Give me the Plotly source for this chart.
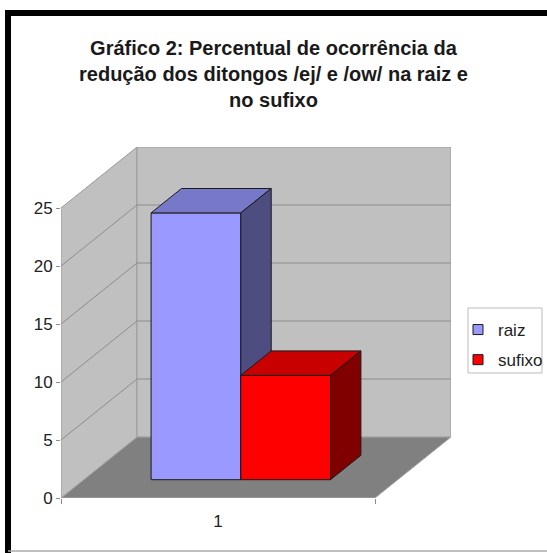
import plotly.graph_objects as go

# ---- data ----
categories = ["1"]
series_names = ["raiz", "sufixo"]
raiz = [23]
sufixo = [9]
y_ticks = [0, 5, 10, 15, 20, 25]
title_text = ("<b>Gráfico 2: Percentual de ocorrência da<br>"
              "redução dos ditongos /ej/ e /ow/ na raiz e<br>no sufixo</b>")

# ---- style / projection ----
W, H = 547, 553
L, R, T, B = 61, 96, 147, 55
YMAX = 25
DX = 76 / 314          # depth shift in category units
DY = 61 / 11.6         # depth shift in value units
front_cols = {"raiz": "#9999FF", "sufixo": "#FF0000"}
top_cols = {"raiz": "#7878C8", "sufixo": "#C80000"}
side_cols = {"raiz": "#4D4D80", "sufixo": "#800000"}
D0, D1 = 0.3, 0.7
GAP = 1.5
n_series = len(series_names)
bar_w = 1 / (n_series + GAP)


def P(x, y, d):
    return x + d * DX, y + d * DY


def poly(pts, fill, line="#808080", lw=1):
    xs = [p[0] for p in pts] + [pts[0][0]]
    ys = [p[1] for p in pts] + [pts[0][1]]
    return go.Scatter(x=xs, y=ys, mode="lines", fill="toself", fillcolor=fill,
                      line=dict(color=line, width=lw), hoverinfo="skip",
                      showlegend=False)


fig = go.Figure()
ncat = len(categories)
# walls and floor
fig.add_trace(poly([P(0, 0, 0), P(0, YMAX, 0), P(0, YMAX, 1), P(0, 0, 1)], "#C0C0C0", "#9A9A9A"))
fig.add_trace(poly([P(0, 0, 1), P(0, YMAX, 1), P(ncat, YMAX, 1), P(ncat, 0, 1)], "#C0C0C0", "#9A9A9A"))
fig.add_trace(poly([P(0, 0, 0), P(ncat, 0, 0), P(ncat, 0, 1), P(0, 0, 1)], "#808080", "#A8A8A8"))
# gridlines
gx, gy = [], []
for v in y_ticks[1:-1]:
    for pt in [P(0, v, 0), P(0, v, 1), P(ncat, v, 1)]:
        gx.append(pt[0]); gy.append(pt[1])
    gx.append(None); gy.append(None)
fig.add_trace(go.Scatter(x=gx, y=gy, mode="lines", line=dict(color="#8C8C8C", width=1),
                         hoverinfo="skip", showlegend=False))

# bars
data = {"raiz": raiz, "sufixo": sufixo}
for ci in range(ncat):
    for si, name in enumerate(series_names):
        v = data[name][ci]
        xl = ci + (GAP / 2) * bar_w + si * bar_w
        xr = xl + bar_w
        fig.add_trace(poly([P(xl, 0, D0), P(xr, 0, D0), P(xr, v, D0), P(xl, v, D0)],
                           front_cols[name], "#1a1a1a"))
        fig.add_trace(poly([P(xl, v, D0), P(xr, v, D0), P(xr, v, D1), P(xl, v, D1)],
                           top_cols[name], "#1a1a1a"))
        fig.add_trace(poly([P(xr, 0, D0), P(xr, 0, D1), P(xr, v, D1), P(xr, v, D0)],
                           side_cols[name], "#1a1a1a"))

# legend entries
for name in series_names:
    fig.add_trace(go.Scatter(x=[None], y=[None], mode="markers", name=name,
                             legendgroup=name,
                             marker=dict(symbol="square", size=10, color=front_cols[name],
                                         line=dict(color="#1a1a1a", width=1))))

pw = W - L - R
ph = H - T - B


def px_x(px):
    return (px - L) / pw


def px_y(py):
    return (H - B - py) / ph


fig.update_layout(
    width=W, height=H,
    margin=dict(l=L, r=R, t=T, b=B, autoexpand=False),
    paper_bgcolor="white", plot_bgcolor="rgba(0,0,0,0)",
    font=dict(family="Liberation Sans, Arial, sans-serif", color="#222222"),
    title=dict(text=title_text, x=0.5, xanchor="center", xref="container",
               y=1 - 55 / H, yanchor="top", yref="container",
               font=dict(size=20, color="#1a1a1a")),
    xaxis=dict(range=[0, ncat + DX], tickvals=[c + 0.5 for c in range(ncat)],
               ticktext=categories, ticks="", showgrid=False, zeroline=False,
               showline=False, tickfont=dict(size=17), ticklabelstandoff=11,
               minor=dict(tickvals=list(range(ncat + 1)), ticks="outside", ticklen=5,
                          tickcolor="#8C8C8C", showgrid=False),
               fixedrange=True),
    yaxis=dict(range=[0, YMAX + DY], tickvals=y_ticks, ticks="outside", ticklen=4,
               tickcolor="#8C8C8C", showgrid=False, zeroline=False, showline=False,
               tickfont=dict(size=17), fixedrange=True),
    legend=dict(xref="container", yref="container", x=458 / W, y=1 - 312 / H,
                xanchor="left", yanchor="top", bgcolor="rgba(0,0,0,0)", borderwidth=0,
                font=dict(size=17), tracegroupgap=5),
    showlegend=True,
    shapes=[
        dict(type="rect", xref="paper", yref="paper", x0=px_x(468), x1=px_x(542),
             y0=px_y(373), y1=px_y(308), fillcolor="white",
             line=dict(color="#BBBBBB", width=1), layer="below"),
        dict(type="line", xref="paper", yref="paper", x0=px_x(5), x1=px_x(W + 5),
             y0=px_y(13), y1=px_y(13), line=dict(color="black", width=6)),
        dict(type="line", xref="paper", yref="paper", x0=px_x(8), x1=px_x(8),
             y0=px_y(10), y1=px_y(H + 5), line=dict(color="black", width=6)),
        dict(type="line", xref="paper", yref="paper", x0=px_x(8), x1=px_x(W + 5),
             y0=px_y(551), y1=px_y(551), line=dict(color="#AAAAAA", width=1.5)),
    ],
)

fig.write_html("out.html", config={"displayModeBar": False},
               post_script="document.body.style.margin='0';")
